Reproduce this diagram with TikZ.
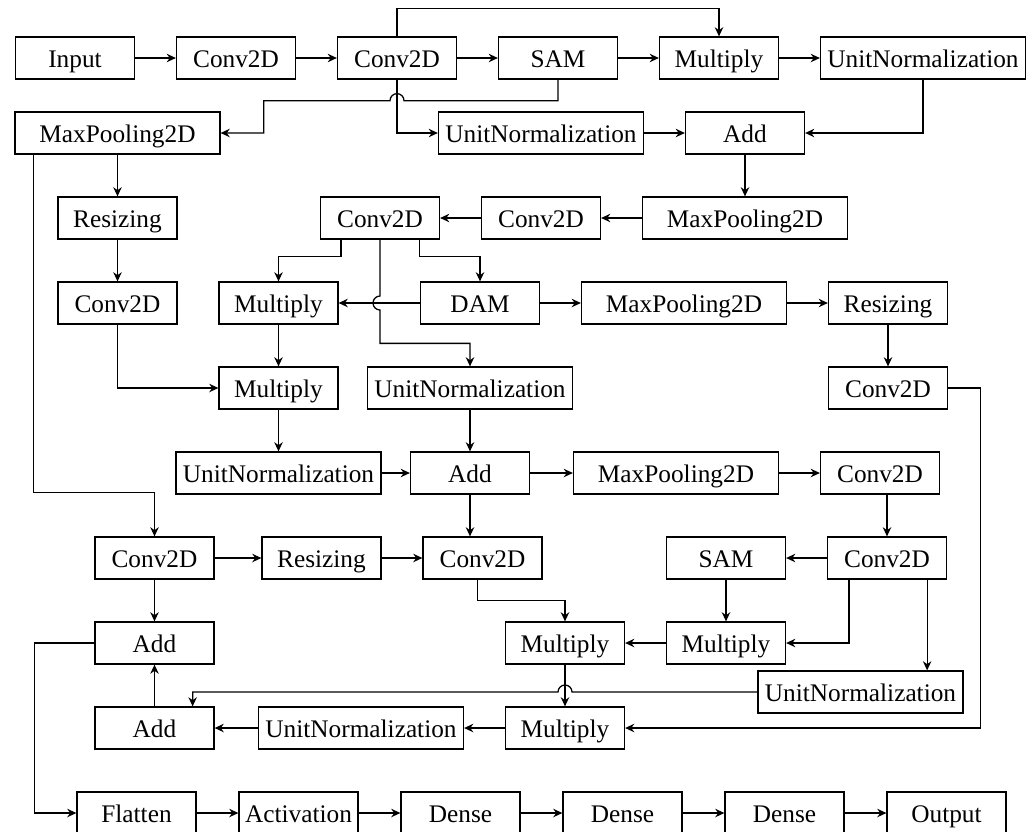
\documentclass[tikz,border=0pt]{standalone}
\usepackage{fontspec}
\setmainfont{Liberation Serif}
\usepackage{tikz}
\usetikzlibrary{shapes.geometric, arrows, arrows.meta}
\tikzstyle{layer} = [rectangle, minimum width=2.975cm, minimum height=1.05cm, text height=14pt, text depth=0pt, text centered, draw=black, line width=0.9pt, font=\fontsize{18}{21}\selectfont]
\tikzstyle{widelayer} = [layer, minimum width=5.125cm]
\tikzstyle{arrow} = [line width=0.9pt, -{Stealth[length=6.5pt, width=6pt]}]

\begin{document}
\begin{tikzpicture}[node distance=2.125cm]
           \useasboundingbox (-1.875,1.45) rectangle (24,-19.325);
           \node (input) [layer] {Input};
           \node (conv1) [layer, right of=input, xshift=1.9cm] {Conv2D};
           \node (conv2) [layer, right of=conv1, xshift=1.9cm] {Conv2D};
           \node (sam1) [layer, right of=conv2, xshift=1.9cm] {SAM};
           \node (mult1) [layer, right of=sam1, xshift=1.9cm] {Multiply};
           \node (unorm1) [widelayer, right of=mult1, xshift=2.975cm] {UnitNormalization};
           \node (pool1) [widelayer, below of=input, xshift=1.0625cm, yshift=0.25cm] {MaxPooling2D};
           \node (add1) [layer, below of=mult1, xshift=0.65cm, yshift=0.25cm] {Add};
           \node (unorm2) [widelayer, left of=add1, xshift=-2.975cm] {UnitNormalization};
           \node (resize1) [layer, below of=pool1] {Resizing};
           \node (pool2) [widelayer, below of=add1] {MaxPooling2D};
           \node (conv4) [layer, left of=pool2, xshift=-2.975cm] {Conv2D};
           \node (conv3) [layer, left of=conv4, xshift=-1.9cm] {Conv2D};
           \node (conv5) [layer, below of=resize1] {Conv2D};
           \node (mult2) [layer, right of=conv5, xshift=1.9cm] {Multiply};
           \node (dam) [layer, below of=conv3, xshift=2.5cm] {DAM};
           \node (pool3) [widelayer, right of=dam, xshift=2.975cm] {MaxPooling2D};
           \node (resize2) [layer, right of=pool3, xshift=2.975cm] {Resizing};
           \node (mult3) [layer, below of=mult2] {Multiply};
           \node (unorm3) [widelayer, below of=dam, xshift=-0.25cm] {UnitNormalization};
           \node (conv6) [layer, below of=resize2] {Conv2D};
           \node (unorm4) [widelayer, below of=mult3] {UnitNormalization};
           \node (add2) [layer, below of=unorm3] {Add};
           \node (pool4) [widelayer, right of=add2, xshift=3.025cm] {MaxPooling2D};
           \node (conv7) [layer, right of=pool4, xshift=2.975cm] {Conv2D};
           \node (conv8) [layer, below of=unorm4, xshift=-3.1cm] {Conv2D};
           \node (resize3) [layer, right of=conv8, xshift=2.05cm] {Resizing};
           \node (conv9) [layer, right of=resize3, xshift=1.9cm] {Conv2D};
           \node (conv10) [layer, below of=conv7, xshift=0.175cm] {Conv2D};
           \node (sam2) [layer, left of=conv10, xshift=-1.9cm] {SAM};
           \node (add3) [layer, below of=conv8] {Add};
           \node (mult5) [layer, below of=sam2] {Multiply};
           \node (mult4) [layer, left of=mult5, xshift=-1.9cm] {Multiply};
           \node (unorm5) [widelayer, below of=mult5, xshift=3.3625cm, yshift=0.9cm] {UnitNormalization};
           \node (add4) [layer, below of=add3] {Add};
           \node (mult6) [layer, below of=mult4] {Multiply};
           \node (unorm6) [widelayer, left of=mult6, xshift=-2.975cm] {UnitNormalization};
           \node (flat) [layer, below of=add4, xshift=-0.45cm] {Flatten};
           \node (act) [layer, right of=flat, xshift=1.925cm] {Activation};
           \node (dense1) [layer, right of=act, xshift=1.925cm] {Dense};
           \node (dense2) [layer, right of=dense1, xshift=1.925cm] {Dense};
           \node (dense3) [layer, right of=dense2, xshift=1.925cm] {Dense};
           \node (output) [layer, right of=dense3, xshift=1.925cm] {Output};

           \draw [arrow] (input) -- (conv1);
           \draw [arrow] (conv1) -- (conv2);
           \draw [arrow] (conv2) -- (sam1);
           \draw [arrow] (sam1) -- (mult1);
           \draw [arrow] (mult1) -- (unorm1);
           \draw [arrow] (conv2.north) -- ++(0,0.7) -| (mult1.north);
           \draw [arrow] (sam1.south) |- ([xshift=0.175cm,yshift=-0.525cm]conv2.south) arc (0:180:0.175cm) -| ([xshift=1.075cm]pool1.east) -- (pool1.east);
           \draw [arrow] (conv2.south) |- (unorm2.west);
           \draw [arrow] (unorm2) -- (add1);
           \draw [arrow] (unorm1.south) |- (add1.east);
           \draw [arrow] (add1) -- (pool2);
           \draw [arrow] (pool2) -- (conv4);
           \draw [arrow] (conv4) -- (conv3);
           \draw [arrow] (pool1) -- (resize1);
           \draw [arrow] (resize1) -- (conv5);
           \draw [arrow] ([xshift=0.475cm]pool1.south west) |- ([yshift=1.1cm]conv8.north) -- (conv8.north);
           \draw [arrow] ([xshift=0.525cm]conv3.south west) -- ++(0,-0.425) -| (mult2.north);
           \draw [arrow] ([xshift=-0.525cm]conv3.south east) -- ++(0,-0.425) -| (dam.north);
           \draw [arrow] (dam) -- (mult2);
           \draw [arrow] (conv3.south) -- ([yshift=0.175cm]conv3.south |- dam.west) arc (90:270:0.175cm) |- ([yshift=0.575cm]unorm3.north) -- (unorm3.north);
           \draw [arrow] (dam) -- (pool3);
           \draw [arrow] (pool3) -- (resize2);
           \draw [arrow] (resize2) -- (conv6);
           \draw [arrow] (conv5.south) |- (mult3.west);
           \draw [arrow] (mult2) -- (mult3);
           \draw [arrow] (mult3) -- (unorm4);
           \draw [arrow] (unorm4) -- (add2);
           \draw [arrow] (unorm3) -- (add2);
           \draw [arrow] (add2) -- (pool4);
           \draw [arrow] (pool4) -- (conv7);
           \draw [arrow] (add2.south) -- (add2.south |- conv9.north);
           \draw [arrow] (conv10.north |- conv7.south) -- (conv10.north);
           \draw [arrow] (conv8) -- (resize3);
           \draw [arrow] (resize3) -- (conv9);
           \draw [arrow] (conv8) -- (add3);
           \draw [arrow] ([xshift=-0.125cm]conv9.south) -- ++(0,-0.525) -| (mult4.north);
           \draw [arrow] (conv10) -- (sam2);
           \draw [arrow] (sam2) -- (mult5);
           \draw [arrow] ([xshift=0.55cm]conv10.south west) |- (mult5.east);
           \draw [arrow] ([xshift=-0.5cm]conv10.south east) -- ([xshift=-0.5cm]conv10.south east |- unorm5.north);
           \draw [arrow] (mult5) -- (mult4);
           \draw [arrow] (mult4) -- (mult6);
           \draw [arrow] (unorm5.west) -- ([xshift=0.175cm]mult4.south |- unorm5.west) arc (0:180:0.175cm) -| ([xshift=-0.55cm]add4.north east);
           \draw [arrow] (conv6.east) -- ++(0.8,0) |- (mult6.east);
           \draw [arrow] (mult6) -- (unorm6);
           \draw [arrow] (unorm6) -- (add4);
           \draw [arrow] (add4) -- (add3);
           \draw [arrow] (add3.west) -- ++(-1.5,0) |- (flat.west);
           \draw [arrow] (flat) -- (act);
           \draw [arrow] (act) -- (dense1);
           \draw [arrow] (dense1) -- (dense2);
           \draw [arrow] (dense2) -- (dense3);
           \draw [arrow] (dense3) -- (output);
        \end{tikzpicture}
\end{document}
